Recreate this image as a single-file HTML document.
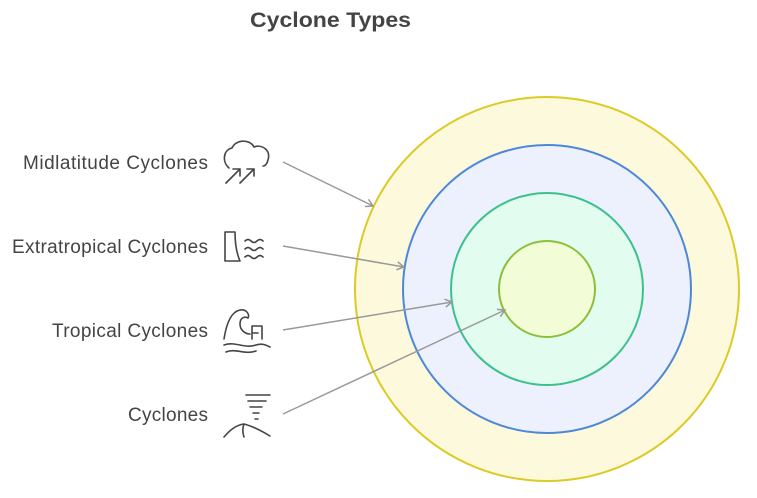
<!DOCTYPE html>
<html><head><meta charset="utf-8"><style>
html,body{margin:0;padding:0;background:#fff;}
body{width:757px;height:493px;overflow:hidden;}
</style></head><body>
<svg width="757" height="493" viewBox="0 0 757 493" xmlns="http://www.w3.org/2000/svg" font-family="Liberation Sans, sans-serif">
<defs><marker id="a" markerWidth="10" markerHeight="10" refX="8" refY="5" orient="auto" markerUnits="userSpaceOnUse"><path d="M1,1 L8,5 L1,9" fill="none" stroke="#999" stroke-width="1.5"/></marker></defs>
<text x="250" y="27" font-size="21" font-weight="bold" fill="#444" textLength="161" lengthAdjust="spacingAndGlyphs">Cyclone Types</text>
<circle cx="547" cy="289" r="192" fill="#fdf9dc" stroke="#dccb24" stroke-width="2"/>
<circle cx="547" cy="289" r="144" fill="#ecf1fd" stroke="#4d88d8" stroke-width="2"/>
<circle cx="547" cy="289" r="96" fill="#e2fcef" stroke="#3cc08c" stroke-width="2"/>
<circle cx="547" cy="289" r="48" fill="#f2fdd8" stroke="#8cbf3a" stroke-width="2"/>
<g font-size="19" fill="#444" lengthAdjust="spacingAndGlyphs">
<text x="23" y="169" textLength="185">Midlatitude Cyclones</text>
<text x="12" y="253" textLength="196">Extratropical Cyclones</text>
<text x="52" y="337" textLength="156">Tropical Cyclones</text>
<text x="128" y="421" textLength="80">Cyclones</text>
</g>
<g stroke="#999" stroke-width="1.5" fill="none" marker-end="url(#a)">
<line x1="283" y1="162" x2="373" y2="206"/>
<line x1="283" y1="246" x2="404" y2="267"/>
<line x1="283" y1="330" x2="452" y2="302"/>
<line x1="283" y1="414" x2="505" y2="310"/>
</g>
<g stroke="#444" stroke-width="1.6" fill="none" stroke-linecap="round" stroke-linejoin="round">
<path d="M229,168 C222,162 223,150 232,148 C236,139 250,139 254,147 C262,144 271,150 268,160 C267,164 265,166 263,166"/>
<path d="M226,183 L240,169 M233,169 L240,169 L240,176 M240,183 L254,169 M247,169 L254,169 L254,176"/>
<path d="M225,232 L225,261 L240,261 C236,252 235,242 235,232 Z"/>
<path d="M245,241 q3,-3 6,0 t6,0 t6,0 M245,249 q3,-3 6,0 t6,0 t6,0 M245,257 q3,-3 6,0 t6,0 t6,0"/>
<path d="M224,339 C226,326 230,312 240,310 C246,309 250,314 248,318 C244,316 240,318 240,324 C240,330 245,334 250,334"/>
<path d="M252,326 L262,326 L262,339 M252,326 L252,339 M252,333 L258,333"/>
<path d="M224,345 C236,341 244,349 256,345 C262,343 266,345 270,347"/>
<path d="M226,352 C236,348 244,355 256,351"/>
<path d="M246,395 L270,395 M248,401 L266,401 M250,407 L262,407 M253,413 L259,413 M255,419 L258,419"/>
<path d="M224,437 C230,430 236,425 244,424 C252,426 260,430 270,436 M244,424 C242,429 243,434 244,437"/>
</g>
</svg>
</body></html>
